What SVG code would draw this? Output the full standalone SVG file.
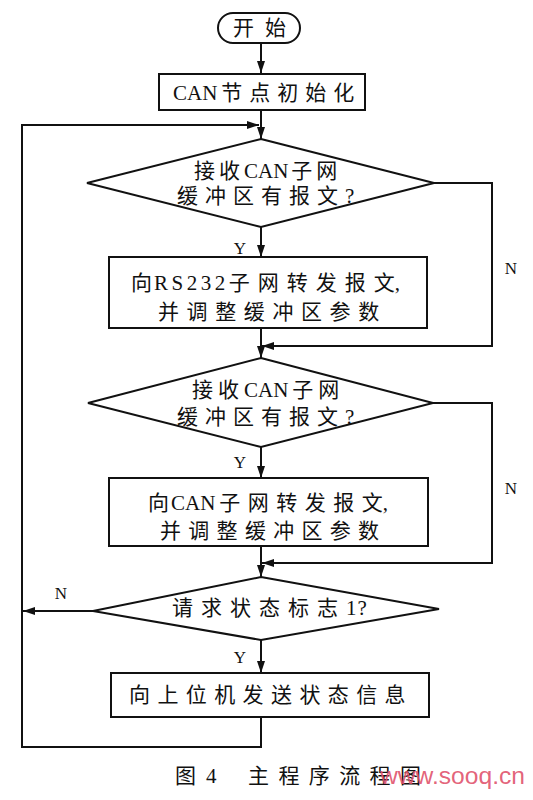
<svg xmlns="http://www.w3.org/2000/svg" width="533" height="800" viewBox="0 0 533 800">
<style>
.s{fill:#fff;stroke:#111;stroke-width:2}
.c{fill:none;stroke:#111;stroke-width:2}
.t{font-family:"Liberation Serif","Noto Sans CJK SC",serif;font-size:21px;fill:#111}
.l{font-family:"Liberation Serif","Noto Sans CJK SC",serif;font-size:17px;fill:#111;text-anchor:middle}
</style>
<defs>
<marker id="ah" viewBox="0 0 12 8" refX="12" refY="4" markerWidth="12" markerHeight="8" orient="auto" markerUnits="userSpaceOnUse"><path d="M0,0 L12,4 L0,8 z" fill="#111"/></marker>
</defs>
<rect width="533" height="800" fill="#fff"/>
<g id="connectors">
<path class="c" d="M261,43 V73" marker-end="url(#ah)"/>
<path class="c" d="M261,110 V139" marker-end="url(#ah)"/>
<path class="c" d="M261,227 V257" marker-end="url(#ah)"/>
<path class="c" d="M434,183 H492 V346 H262" marker-end="url(#ah)"/>
<path class="c" d="M261,328 V358" marker-end="url(#ah)"/>
<path class="c" d="M261,447 V478" marker-end="url(#ah)"/>
<path class="c" d="M433,403 H492 V563 H262" marker-end="url(#ah)"/>
<path class="c" d="M261,546 V577" marker-end="url(#ah)"/>
<path class="c" d="M93,611 H23" marker-end="url(#ah)"/>
<path class="c" d="M261,640 V673" marker-end="url(#ah)"/>
<path class="c" d="M261,717 V747 H22 V125 H259" marker-end="url(#ah)"/>
<text class="l" x="240" y="254">Y</text>
<text class="l" x="240" y="468">Y</text>
<text class="l" x="240" y="663">Y</text>
<text class="l" x="511" y="274">N</text>
<text class="l" x="511" y="494">N</text>
<text class="l" x="61" y="599">N</text>
</g>
<g id="start">
<rect class="s" x="218" y="13" width="82" height="30" rx="15"/>
<text class="t" x="233" y="35" letter-spacing="11">开始</text>
</g>
<g id="init">
<rect class="s" x="159" y="74" width="206" height="36"/>
<text class="t" x="173" y="100"><tspan>CAN</tspan><tspan dx="4" letter-spacing="7">节点初始化</tspan></text>
</g>
<g id="dec1">
<polygon class="s" points="261,139 434,183 261,227 87,183"/>
<text class="t" x="194" y="178"><tspan letter-spacing="4">接收</tspan><tspan>CAN</tspan><tspan dx="3" letter-spacing="4">子网</tspan></text>
<text class="t" x="177" y="203" letter-spacing="7">缓冲区有报文?</text>
</g>
<g id="proc1">
<rect class="s" x="109" y="257" width="318" height="71"/>
<text class="t" x="131" y="290"><tspan letter-spacing="2">向</tspan><tspan letter-spacing="3.5">RS232</tspan><tspan letter-spacing="8">子网转发报</tspan><tspan>文,</tspan></text>
<text class="t" x="158" y="319" letter-spacing="7.6">并调整缓冲区参数</text>
</g>
<g id="dec2">
<polygon class="s" points="261,358 433,403 261,447 88,403"/>
<text class="t" x="192" y="397"><tspan letter-spacing="5">接收</tspan><tspan>CAN</tspan><tspan dx="4" letter-spacing="5">子网</tspan></text>
<text class="t" x="177" y="424" letter-spacing="7">缓冲区有报文?</text>
</g>
<g id="proc2">
<rect class="s" x="109" y="478" width="319" height="68"/>
<text class="t" x="148" y="510"><tspan letter-spacing="2">向</tspan><tspan>CAN</tspan><tspan dx="4" letter-spacing="7.5">子网转发报</tspan><tspan>文,</tspan></text>
<text class="t" x="160" y="538" letter-spacing="7.3">并调整缓冲区参数</text>
</g>
<g id="dec3">
<polygon class="s" points="261,577 439,609 261,640 93,611"/>
<text class="t" x="172" y="615"><tspan letter-spacing="8">请求状态标志</tspan><tspan letter-spacing="1">1?</tspan></text>
</g>
<g id="proc3">
<rect class="s" x="111" y="673" width="318" height="44"/>
<text class="t" x="129" y="702" letter-spacing="7.4">向上位机发送状态信息</text>
</g>
<g id="caption">
<text class="t" x="175" y="783" font-size="22">图<tspan dx="10">4</tspan></text>
<text class="t" x="248" y="783" font-size="22" letter-spacing="9.4">主程序流程图</text>
<text x="380" y="784" font-family="Liberation Sans, sans-serif" font-size="24" fill="#e0506a" fill-opacity="0.9" textLength="145" lengthAdjust="spacingAndGlyphs">www.sooq.cn</text>
</g>
</svg>
